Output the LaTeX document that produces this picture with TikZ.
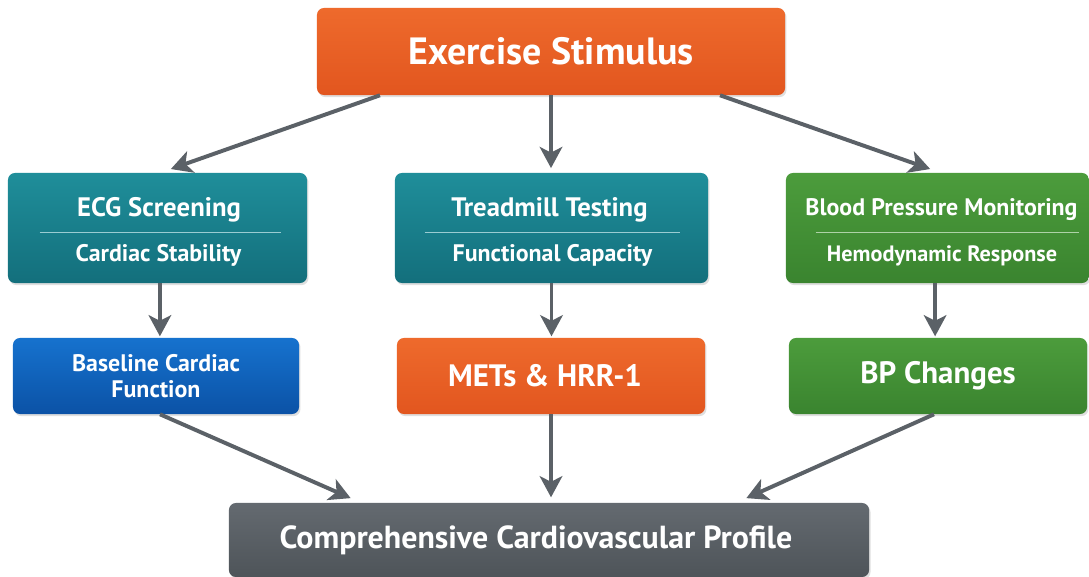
\documentclass[tikz,border=0pt]{standalone}
\usepackage{fontspec}
\setmainfont{PT Sans}
\usepackage{tikz}
\usetikzlibrary{positioning,arrows.meta,calc,shadows}

\definecolor{stimorange}{HTML}{EE6A2C}
\definecolor{stimorangedk}{HTML}{E2561F}
\definecolor{tealtop}{HTML}{1F8E9A}
\definecolor{tealbot}{HTML}{136F7C}
\definecolor{greentop}{HTML}{4C9C3C}
\definecolor{greenbot}{HTML}{3A842F}
\definecolor{bluetop}{HTML}{1672CE}
\definecolor{bluebot}{HTML}{0B52A6}
\definecolor{graytop}{HTML}{646A70}
\definecolor{graybot}{HTML}{4E5459}
\definecolor{arrowgray}{HTML}{5B6167}

\begin{document}
\begin{tikzpicture}[
  x=0.025cm, y=-0.025cm,
  box/.style={rectangle, rounded corners=5pt, inner sep=0pt, text=white, font=\bfseries,
    drop shadow={opacity=0.25, shadow xshift=1pt, shadow yshift=-1.5pt}},
  orangebox/.style={box, top color=stimorange, bottom color=stimorangedk},
  tealbox/.style={box, top color=tealtop, bottom color=tealbot},
  greenbox/.style={box, top color=greentop, bottom color=greenbot},
  bluebox/.style={box, top color=bluetop, bottom color=bluebot},
  graybox/.style={box, top color=graytop, bottom color=graybot},
  title/.style={text=white, font=\bfseries\fontsize{19}{22}\selectfont, inner sep=0pt},
  sub/.style={text=white, font=\bfseries\fontsize{17}{20}\selectfont, inner sep=0pt},
  divider/.style={white!55!tealtop, line width=0.6pt},
  arrow/.style={-{Stealth[length=15pt,width=16pt,inset=4pt]}, line width=2.8pt, draw=arrowgray, shorten >=1pt},
]
\useasboundingbox[fill=white] (0,0) rectangle (1089,577);

% --- stimulus ---
\node[orangebox, minimum width=11.7cm, minimum height=2.175cm,
  font=\bfseries\fontsize{27}{30}\selectfont] (stim) at (551,51.5) {Exercise Stimulus};

% --- test boxes ---
\node[tealbox, minimum width=7.475cm, minimum height=2.75cm] (ecg) at (157.5,228) {};
\node[title] (ecgt) at (159,210) {ECG Screening};
\node[sub] (ecgs) at (158.5,255) {Cardiac Stability};
\draw[divider] ([xshift=0.8cm,yshift=-0.1cm]ecg.west) -- ([xshift=-0.65cm,yshift=-0.1cm]ecg.east);

\node[tealbox, minimum width=7.825cm, minimum height=2.75cm] (tread) at (551.5,228) {};
\node[title] (treadt) at (549.5,210) {Treadmill Testing};
\node[sub] (treads) at (552.5,255) {Functional Capacity};
\draw[divider] ([xshift=0.75cm,yshift=-0.1cm]tread.west) -- ([xshift=-0.7cm,yshift=-0.1cm]tread.east);

\node[greenbox, minimum width=7.575cm, minimum height=2.75cm] (bpm) at (937.5,228) {};
\node[title, font=\bfseries\fontsize{17}{20}\selectfont] (bpmt) at (941.5,210) {Blood Pressure Monitoring};
\node[sub, font=\bfseries\fontsize{15.8}{18}\selectfont] (bpms) at (942,256) {Hemodynamic Response};
\draw[divider, white!55!greentop] ([xshift=0.75cm,yshift=-0.1cm]bpm.west) -- ([xshift=-0.25cm,yshift=-0.1cm]bpm.east);

% --- outcomes ---
\node[bluebox, minimum width=7.15cm, minimum height=1.9cm, align=center,
  font=\bfseries\fontsize{17}{18.5}\selectfont] (base) at (156,376) {Baseline Cardiac\\Function};
\node[orangebox, minimum width=7.7cm, minimum height=1.9cm,
  font=\bfseries\fontsize{22}{24}\selectfont] (mets) at (551,376) {METs \& HRR-1\hspace*{0.3cm}};
\node[greenbox, minimum width=7.45cm, minimum height=1.9cm,
  font=\bfseries\fontsize{22}{24}\selectfont] (bpc) at (938,376) {BP Changes};

% --- profile ---
\node[graybox, minimum width=16cm, minimum height=1.85cm,
  font=\bfseries\fontsize{22.7}{26}\selectfont] (prof) at (549,540) {Comprehensive Cardiovascular Profile\hspace*{0.65cm}};

% --- connectors ---
\draw[arrow] ([xshift=-4.275cm]stim.south) -- ([xshift=0.3cm,yshift=0.08cm]ecg.north);
\draw[arrow] (stim.south) -- ([yshift=0.08cm]stim.south |- tread.north);
\draw[arrow] ([xshift=4.225cm]stim.south) -- ([xshift=-0.15cm,yshift=0.08cm]bpm.north);

\draw[arrow] ([xshift=0.06cm]ecg.south) -- ([xshift=0.06cm]ecg.south |- base.north);
\draw[arrow] (tread.south) -- (tread.south |- mets.north);
\draw[arrow] ([xshift=-0.06cm]bpm.south) -- ([xshift=-0.06cm]bpm.south |- bpc.north);

\draw[arrow] ([xshift=0.1cm]base.south) -- ([xshift=-4.925cm,yshift=0.1cm]prof.north);
\draw[arrow] (mets.south) -- ([yshift=0.1cm]mets.south |- prof.north);
\draw[arrow] ([xshift=-0.1cm]bpc.south) -- ([xshift=4.9cm,yshift=0.1cm]prof.north);
\end{tikzpicture}
\end{document}
